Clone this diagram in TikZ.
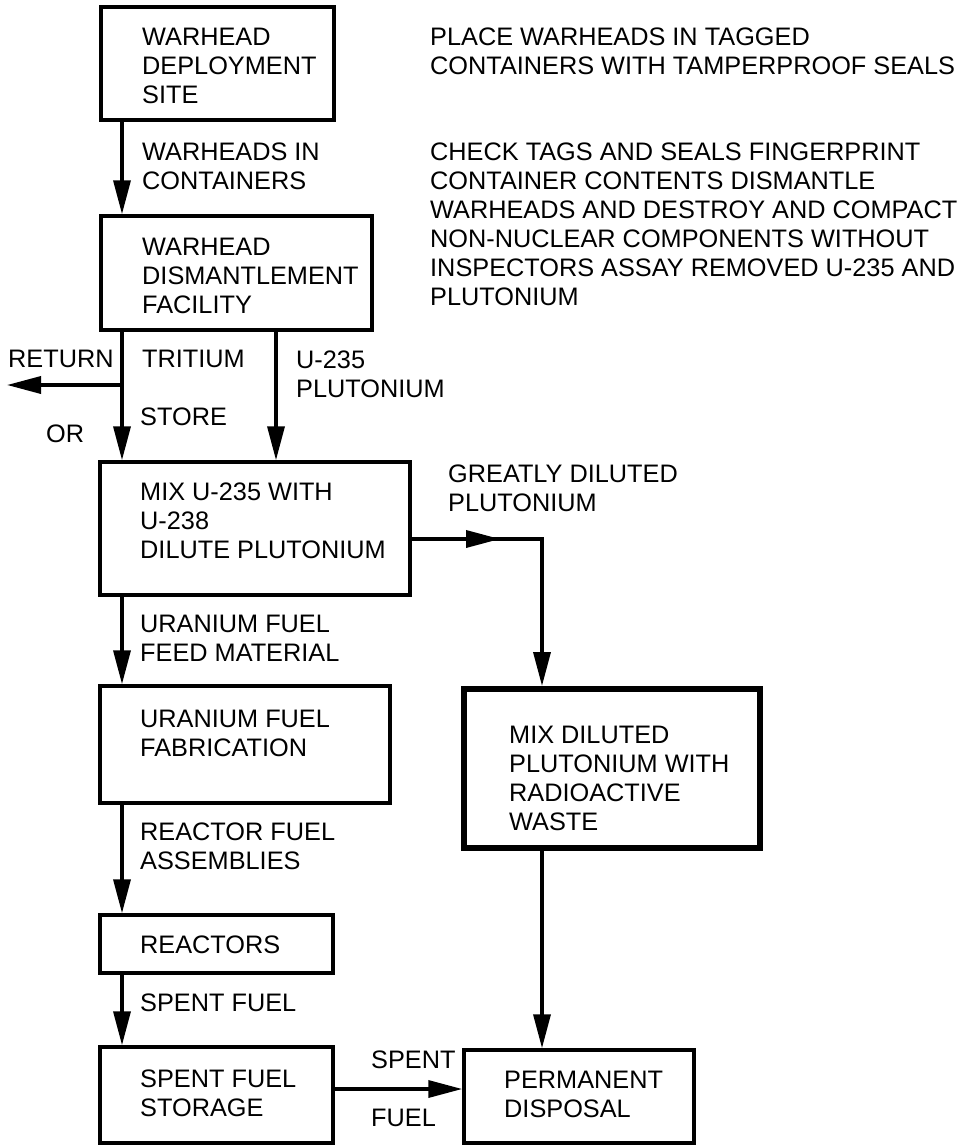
\documentclass[tikz,border=0pt]{standalone}
\usepackage{fontspec}
\setmainfont{Liberation Sans}
\usetikzlibrary{arrows.meta}
\newcommand\mlines[1]{\begin{tabular}[t]{@{}l@{}}#1\end{tabular}}
\begin{document}
\begin{tikzpicture}[x=1pt,y=-1pt,
  font=\fontsize{25.3}{29}\selectfont,
  box/.style={draw, line width=3.5pt, inner sep=0pt},
  thickbox/.style={draw, line width=6pt, inner sep=0pt},
  txt/.style={anchor=base west, inner sep=0pt},
  arr/.style={-{Triangle[length=34pt,width=17pt]}, line width=3.5pt},
  ln/.style={line width=3.5pt}]
\useasboundingbox (0,0) rectangle (969,1146);
% boxes
\node[box, minimum width=233pt, minimum height=113pt] (b1) at (217.5,63.5) {};
\node[box, minimum width=271pt, minimum height=114pt] (b2) at (236.5,273) {};
\node[box, minimum width=310pt, minimum height=133pt] (b3) at (255,528.5) {};
\node[box, minimum width=290pt, minimum height=117pt] (b4) at (245,744.5) {};
\node[box, minimum width=233pt, minimum height=58pt] (b5) at (216.5,944) {};
\node[box, minimum width=233pt, minimum height=96pt] (b6) at (216.5,1095) {};
\node[thickbox, minimum width=296pt, minimum height=159pt] (b7) at (612,768.5) {};
\node[box, minimum width=230pt, minimum height=93pt] (b8) at (579,1096.5) {};
% box texts
\node[txt] (t1) at (142,45) {\mlines{WARHEAD\\DEPLOYMENT\\SITE}};
\node[txt] (t2) at (142,255) {\mlines{WARHEAD\\DISMANTLEMENT\\FACILITY}};
\node[txt] (t3) at (140,500) {\mlines{MIX U-235 WITH\\U-238\\DILUTE PLUTONIUM}};
\node[txt] (t4) at (140,727) {\mlines{URANIUM FUEL\\FABRICATION}};
\node[txt] (t5) at (140,953) {REACTORS};
\node[txt] (t6) at (140,1087) {\mlines{SPENT FUEL\\STORAGE}};
\node[txt] (t7) at (509,743) {\mlines{MIX DILUTED\\PLUTONIUM WITH\\RADIOACTIVE\\WASTE}};
\node[txt] (t8) at (504,1088) {\mlines{PERMANENT\\DISPOSAL}};
% side notes
\node[txt] (n1) at (430,45) {\mlines{PLACE WARHEADS IN TAGGED\\CONTAINERS WITH TAMPERPROOF SEALS}};
\node[txt] (n2) at (430,160) {\mlines{CHECK TAGS AND SEALS FINGERPRINT\\CONTAINER CONTENTS DISMANTLE\\WARHEADS AND DESTROY AND COMPACT\\NON-NUCLEAR COMPONENTS WITHOUT\\INSPECTORS ASSAY REMOVED U-235 AND\\PLUTONIUM}};
% connector labels
\node[txt] (l1) at (142,160) {\mlines{WARHEADS IN\\CONTAINERS}};
\node[txt] (l2) at (8,367) {RETURN};
\node[txt] (l3) at (142,367) {TRITIUM};
\node[txt] (l4) at (296,368) {\mlines{U-235\\PLUTONIUM}};
\node[txt] (l5) at (140,425) {STORE};
\node[txt] (l6) at (46,442) {OR};
\node[txt] (l7) at (448,482) {\mlines{GREATLY DILUTED\\PLUTONIUM}};
\node[txt] (l8) at (140,632) {\mlines{URANIUM FUEL\\FEED MATERIAL}};
\node[txt] (l9) at (140,840) {\mlines{REACTOR FUEL\\ASSEMBLIES}};
\node[txt] (l10) at (140,1011) {SPENT FUEL};
\node[txt] (l11) at (371,1068) {SPENT};
\node[txt] (l12) at (371,1126) {FUEL};
% helper coordinates
\coordinate (xl) at (122,0);
\coordinate (xu) at (276,0);
\coordinate (xr) at (542,0);
\coordinate (yret) at (0,385);
\coordinate (ymix) at (0,539);
\coordinate (ret) at (7,385);
\coordinate (midtip) at (500,539);
\coordinate (corner) at (542,539);
\coordinate (yspent) at (0,1089);
% connectors
\draw[arr] (b1.south -| xl) -- (b2.north -| xl);
\draw[arr] (b2.south -| xl) -- (b3.north -| xl);
\draw[arr] (xl |- yret) -- (ret);
\draw[arr] (b2.south -| xu) -- (b3.north -| xu);
\draw[arr, line join=miter] (b3.east |- ymix) -- (corner) -- (b7.north -| corner);
\draw[arr] (b3.east |- ymix) -- (midtip);
\draw[arr] (b3.south -| xl) -- (b4.north -| xl);
\draw[arr] (b4.south -| xl) -- (b5.north -| xl);
\draw[arr] (b5.south -| xl) -- (b6.north -| xl);
\draw[arr] (b7.south -| xr) -- (b8.north -| xr);
\draw[arr] (b6.east |- yspent) -- (b8.west |- yspent);
\end{tikzpicture}
\end{document}
